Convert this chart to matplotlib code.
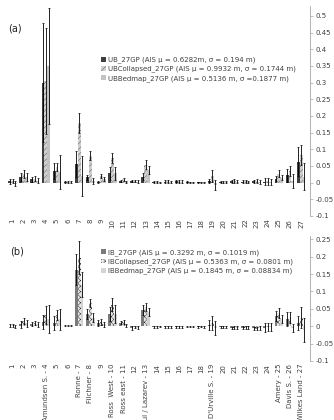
import numpy as np
import matplotlib
matplotlib.use("Agg")
import matplotlib.pyplot as plt
from matplotlib.ticker import FuncFormatter

plt.rcParams["hatch.linewidth"] = 0.35

cats = list(range(1, 28))
names_b = ["1", "2", "3", "Amundsen S. - 4", "5", "6", "Ronne - 7", "Filchner - 8",
           "9", "Ross  West - 10", "Ross east - 11", "12", "Fimbul / Lazarev - 13",
           "14", "15", "16", "17", "18", "D'Urville S. - 19", "20", "21", "22", "23",
           "24", "Amery - 25", "Davis S. - 26", "Wilkes Land - 27"]

# panel (a)
ub = [0.004, 0.018, 0.010, 0.300, 0.035, 0.002, 0.056, 0.016, 0.003, 0.028, 0.005,
      0.005, 0.018, 0.002, 0.003, 0.004, 0.002, 0.001, 0.006, 0.002, 0.004, 0.003,
      0.004, 0.003, 0.012, 0.022, 0.063]
ub_err = [0.008, 0.012, 0.008, 0.178, 0.025, 0.002, 0.040, 0.008, 0.003, 0.020, 0.004,
          0.004, 0.010, 0.002, 0.004, 0.005, 0.002, 0.002, 0.006, 0.002, 0.004, 0.004,
          0.005, 0.010, 0.008, 0.020, 0.043]
ubc = [0.005, 0.025, 0.012, 0.305, 0.048, 0.002, 0.180, 0.081, 0.020, 0.074, 0.010,
       0.005, 0.054, 0.002, 0.004, 0.004, 0.001, 0.001, 0.020, 0.003, 0.005, 0.004,
       0.005, 0.004, 0.027, 0.035, 0.082]
ubc_err = [0.006, 0.012, 0.008, 0.160, 0.012, 0.002, 0.030, 0.013, 0.007, 0.016, 0.005,
           0.004, 0.013, 0.002, 0.004, 0.005, 0.002, 0.002, 0.018, 0.003, 0.005, 0.005,
           0.006, 0.010, 0.010, 0.015, 0.030]
ubb = [-0.003, 0.018, 0.006, 0.350, 0.032, 0.002, 0.020, 0.005, 0.010, 0.028, 0.002,
       0.003, 0.038, 0.001, 0.002, 0.003, 0.001, 0.001, -0.006, 0.002, 0.003, 0.002,
       0.003, 0.002, 0.015, 0.005, 0.018]
ubb_err = [0.008, 0.012, 0.008, 0.175, 0.050, 0.002, 0.060, 0.010, 0.006, 0.020, 0.004,
           0.005, 0.012, 0.002, 0.004, 0.005, 0.002, 0.002, 0.015, 0.002, 0.004, 0.004,
           0.006, 0.010, 0.008, 0.020, 0.040]

# panel (b)
ib = [0.002, 0.006, 0.007, 0.012, 0.010, 0.002, 0.163, 0.035, 0.010, 0.035, 0.010,
      -0.005, 0.046, -0.002, -0.002, -0.001, 0.000, -0.002, 0.003, -0.003, -0.005,
      -0.004, -0.006, -0.004, 0.030, 0.020, 0.008]
ib_err = [0.003, 0.010, 0.006, 0.020, 0.020, 0.001, 0.044, 0.015, 0.008, 0.020, 0.005,
          0.005, 0.015, 0.002, 0.003, 0.003, 0.001, 0.002, 0.015, 0.003, 0.004, 0.004,
          0.005, 0.012, 0.015, 0.020, 0.020]
ibc = [0.003, 0.015, 0.009, 0.032, 0.032, 0.002, 0.197, 0.066, 0.012, 0.062, 0.012,
       -0.002, 0.055, -0.002, -0.003, -0.002, 0.000, -0.001, 0.010, -0.003, -0.004,
       -0.004, -0.007, -0.003, 0.038, 0.025, 0.025]
ibc_err = [0.004, 0.010, 0.006, 0.025, 0.015, 0.001, 0.048, 0.012, 0.008, 0.018, 0.005,
           0.004, 0.012, 0.002, 0.003, 0.003, 0.001, 0.002, 0.020, 0.003, 0.004, 0.004,
           0.005, 0.012, 0.015, 0.015, 0.030]
ibb = [0.000, 0.008, 0.005, 0.020, 0.020, 0.002, 0.120, 0.025, 0.005, 0.035, 0.003,
       -0.004, 0.040, -0.001, -0.002, -0.001, 0.000, -0.002, -0.005, -0.002, -0.004,
       -0.003, -0.005, -0.003, 0.020, -0.005, -0.010]
ibb_err = [0.004, 0.010, 0.007, 0.040, 0.030, 0.001, 0.035, 0.012, 0.008, 0.025, 0.004,
           0.004, 0.012, 0.002, 0.003, 0.003, 0.001, 0.002, 0.020, 0.003, 0.004, 0.004,
           0.005, 0.012, 0.012, 0.012, 0.035]

labels_a = ["UB_27GP (AIS \u03bc = 0.6282m, \u03c3 = 0.194 m)",
            "UBCollapsed_27GP (AIS \u03bc = 0.9932 m, \u03c3 = 0.1744 m)",
            "UBBedmap_27GP (AIS \u03bc = 0.5136 m, \u03c3 =0.1877 m)"]
labels_b = ["IB_27GP (AIS \u03bc = 0.3292 m, \u03c3 = 0.1019 m)",
            "IBCollapsed_27GP (AIS \u03bc = 0.5363 m, \u03c3 = 0.0801 m)",
            "IBBedmap_27GP (AIS \u03bc = 0.1845 m, \u03c3 = 0.08834 m)"]

fig = plt.figure(figsize=(3.34, 4.2), dpi=100)
ax1 = fig.add_axes([0.021, 0.486, 0.907, 0.5])
ax2 = fig.add_axes([0.021, 0.1405, 0.907, 0.298])

x = np.array(cats)
w = 0.26
tcol = "#404040"


def draw(ax, series, errs, styles, labels, ylim, ticks):
    for k, (vals, err, st, lab) in enumerate(zip(series, errs, styles, labels)):
        ax.bar(x + (k - 1) * w, vals, w, yerr=err, label=lab,
               error_kw=dict(elinewidth=0.6, capsize=0.8, capthick=0.5, ecolor="black"),
               linewidth=0, **st)
    ax.set_xlim(0.5, 27.8)
    ax.set_ylim(*ylim)
    ax.yaxis.tick_right()
    ax.set_yticks(ticks)
    ax.yaxis.set_major_formatter(FuncFormatter(lambda v, p: "%g" % round(v, 2)))
    for s in ["top", "left", "bottom"]:
        ax.spines[s].set_visible(False)
    ax.spines["right"].set_color("#a6a6a6")
    ax.spines["right"].set_linewidth(0.6)
    ax.tick_params(axis="y", labelsize=5, colors="#a6a6a6", labelcolor=tcol,
                   length=2, width=0.5, pad=2)
    ax.tick_params(axis="x", length=0, labelsize=5, labelcolor=tcol, pad=2)
    ax.set_xticks(x)


styles_a = [dict(color="#3f3f3f"),
            dict(color="#d0d0d0", hatch="//////", edgecolor="#5a5a5a"),
            dict(color="#c3c3c3")]
styles_b = [dict(color="#7a7a7a"),
            dict(color="#e8e8e8", hatch="xxxxxx", edgecolor="#303030"),
            dict(color="#d4d4d4")]

draw(ax1, [ub, ubc, ubb], [ub_err, ubc_err, ubb_err], styles_a, labels_a,
     (-0.1, 0.53), np.arange(-0.1, 0.501, 0.05))
ax1.set_xticklabels([str(c) for c in cats], rotation=90, va="top")

draw(ax2, [ib, ibc, ibb], [ib_err, ibc_err, ibb_err], styles_b, labels_b,
     (-0.1, 0.26), np.arange(-0.1, 0.251, 0.05))
ax2.set_xticklabels(names_b, rotation=90, va="top")

for ax, top in [(ax1, 0.872), (ax2, 0.413)]:
    ax.legend(loc="upper left", bbox_to_anchor=(0.295, top), bbox_transform=fig.transFigure,
              frameon=False, fontsize=5, handlelength=0.7, handleheight=0.7,
              handletextpad=0.3, labelspacing=0.35, borderaxespad=0, labelcolor=tcol)

fig.text(0.025, 0.933, "(a)", fontsize=7, va="center", color="#222222")
fig.text(0.03, 0.40, "(b)", fontsize=7, va="center", color="#222222")

fig.savefig("out.png", dpi=100)
